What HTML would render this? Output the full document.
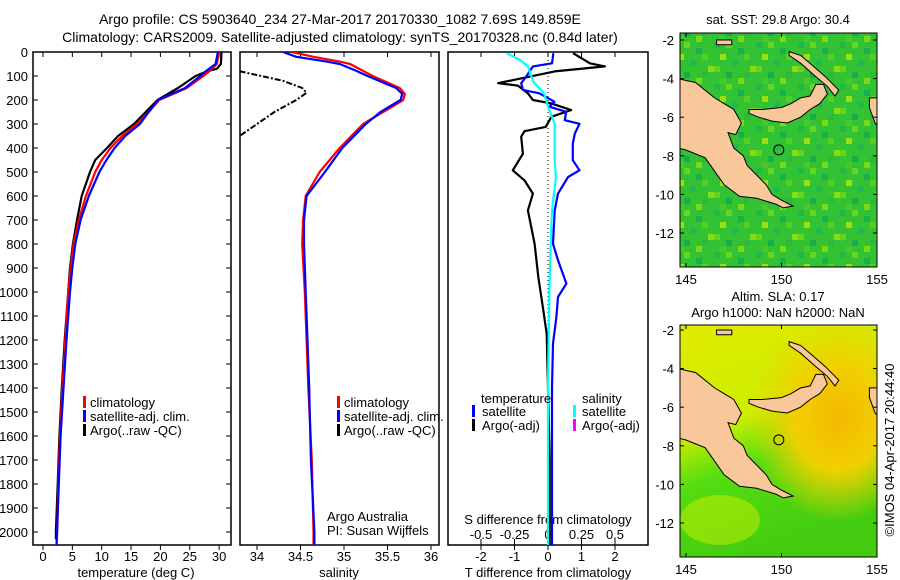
<!DOCTYPE html>
<html><head><meta charset="utf-8">
<style>
html,body{margin:0;padding:0;background:#fff;}
svg{display:block;font-family:"Liberation Sans",sans-serif;}
text{font-size:13px;fill:#000;}
</style></head>
<body>
<svg id="fig" width="900" height="580" viewBox="0 0 900 580" xmlns="http://www.w3.org/2000/svg">
<defs>
<pattern id="sstpat" width="42" height="42" patternUnits="userSpaceOnUse">
<rect width="42" height="42" fill="#33c233"/>
<rect x="0" y="0" width="6" height="6" fill="#22b844"/><rect x="12" y="0" width="6" height="6" fill="#66d622"/>
<rect x="24" y="6" width="6" height="6" fill="#18b04c"/><rect x="6" y="12" width="6" height="6" fill="#99e011"/>
<rect x="30" y="12" width="6" height="6" fill="#55d022"/><rect x="18" y="18" width="6" height="6" fill="#22b850"/>
<rect x="0" y="24" width="6" height="6" fill="#66d41a"/><rect x="36" y="24" width="6" height="6" fill="#88dc11"/>
<rect x="12" y="30" width="6" height="6" fill="#18ad48"/><rect x="24" y="36" width="6" height="6" fill="#7ad814"/>
<rect x="30" y="30" width="6" height="6" fill="#2cba38"/><rect x="6" y="36" width="6" height="6" fill="#48c82a"/>
</pattern>
<radialGradient id="slaOr" cx="0.8" cy="0.4" r="0.45"><stop offset="0" stop-color="#f5b800"/><stop offset="0.5" stop-color="#f0d000"/><stop offset="1" stop-color="#f0d000" stop-opacity="0"/></radialGradient>
<linearGradient id="slaBase" x1="0" y1="0" x2="0.3" y2="1"><stop offset="0" stop-color="#e0ea00"/><stop offset="0.45" stop-color="#ccee00"/><stop offset="0.65" stop-color="#55dd11"/><stop offset="1" stop-color="#44cc11"/></linearGradient>
<clipPath id="c1"><rect x="33" y="52" width="198" height="493"/></clipPath>
<clipPath id="c2"><rect x="240" y="52" width="199" height="493"/></clipPath>
<clipPath id="c3"><rect x="448" y="52" width="200" height="493"/></clipPath>
<clipPath id="cm1"><rect x="680" y="33" width="197" height="234"/></clipPath>
<clipPath id="cm2"><rect x="680" y="325" width="197" height="232"/></clipPath>
</defs>

<text x="340" y="24" text-anchor="middle" style="font-size:14px">Argo profile: CS 5903640_234 27-Mar-2017 20170330_1082 7.69S 149.859E</text>
<text x="340" y="42" text-anchor="middle" style="font-size:14px">Climatology: CARS2009. Satellite-adjusted climatology: synTS_20170328.nc (0.84d later)</text>

<g id="axes"></g>
<g id="series"></g>

<g>
<rect x="83" y="396" width="3" height="12" fill="#f00"/><text x="90" y="407">climatology</text>
<rect x="83" y="410" width="3" height="12" fill="#00f"/><text x="90" y="421">satellite-adj. clim.</text>
<rect x="83" y="424" width="3" height="12" fill="#000"/><text x="90" y="435">Argo(..raw -QC)</text>
</g>
<g>
<rect x="337" y="396" width="3" height="12" fill="#f00"/><text x="344" y="407">climatology</text>
<rect x="337" y="410" width="3" height="12" fill="#00f"/><text x="344" y="421">satellite-adj. clim.</text>
<rect x="337" y="424" width="3" height="12" fill="#000"/><text x="344" y="435">Argo(..raw -QC)</text>
<text x="327" y="521">Argo Australia</text>
<text x="327" y="535">PI: Susan Wijffels</text>
</g>
<g>
<text x="481" y="403">temperature</text>
<rect x="472" y="405" width="3" height="12" fill="#00f"/><text x="482" y="416">satellite</text>
<rect x="472" y="419" width="3" height="12" fill="#000"/><text x="482" y="430">Argo(-adj)</text>
<text x="582" y="403">salinity</text>
<rect x="573" y="405" width="3" height="12" fill="#0ff"/><text x="582" y="416">satellite</text>
<rect x="573" y="419" width="3" height="12" fill="#f0f"/><text x="582" y="430">Argo(-adj)</text>
</g>

<g>
<text x="778" y="24" text-anchor="middle">sat. SST: 29.8 Argo: 30.4</text>
<g clip-path="url(#cm1)"><rect x="680" y="33" width="197" height="234" fill="url(#sstpat)"/><g id="land1"></g></g>
<rect x="680" y="33" width="197" height="234" fill="none" stroke="#000"/>
<g id="mapax1"></g>
</g>
<g>
<text x="778" y="301" text-anchor="middle">Altim. SLA: 0.17</text>
<text x="778" y="317" text-anchor="middle">Argo h1000: NaN h2000: NaN</text>
<g clip-path="url(#cm2)"><rect x="680" y="325" width="197" height="232" fill="url(#slaBase)"/><rect x="680" y="325" width="197" height="232" fill="url(#slaOr)"/><ellipse cx="720" cy="520" rx="40" ry="25" fill="#ccee00" opacity="0.5"/><g id="land2"></g></g>
<rect x="680" y="325" width="197" height="232" fill="none" stroke="#000"/>
<g id="mapax2"></g>
</g>
<text transform="translate(894,450) rotate(-90)" text-anchor="middle">©IMOS 04-Apr-2017 20:44:40</text>

<script>
const depthTicks = [0,100,200,300,400,500,600,700,800,900,1000,1100,1200,1300,1400,1500,1600,1700,1800,1900,2000];
const tempTicks = [0,5,10,15,20,25,30];
const salTicks = [34,34.5,35,35.5,36];
const salTickLabels = ["34","34.5","35","35.5","36"];
const tdTicks = [-2,-1,0,1,2];
const sdTicks = [-0.5,-0.25,0,0.25,0.5];
const sdTickLabels = ["-0.5","-0.25","0","0.25","0.5"];

const tClimDepth = [0,50,75,100,150,200,250,300,350,400,450,500,600,700,800,900,1000,1200,1400,1600,1800,2000,2054];
const tClimVal   = [30.0,29.6,28.6,27.3,24.5,19.8,18.0,16.0,13.5,11.5,10.0,8.9,7.3,6.1,5.2,4.7,4.3,3.8,3.3,2.9,2.6,2.4,2.3];
const tSatDepth  = [0,50,75,100,150,200,250,300,350,400,450,500,600,700,800,900,1000,1200,1400,1600,1800,2000,2054];
const tSatVal    = [29.8,29.4,28.0,26.8,24.2,19.6,18.0,16.5,14.0,12.2,10.8,9.6,7.8,6.4,5.5,5.0,4.6,4.0,3.5,3.0,2.7,2.4,2.3];
const tArgoDepth = [0,50,70,80,100,150,200,250,300,350,400,450,500,600,700,800,900,1000,1200,1400,1600,1800,2000,2030];
const tArgoVal   = [30.4,30.3,29.6,28.0,26.0,23.0,19.5,17.5,15.5,12.8,10.9,8.9,8.0,6.6,5.8,5.1,4.6,4.3,3.7,3.2,2.8,2.5,2.2,2.2];

const sClimDepth = [0,20,40,50,75,100,150,175,200,250,300,400,500,600,700,800,1000,1200,1400,1700,2000,2054];
const sClimVal   = [34.4,34.65,34.95,35.07,35.2,35.33,35.64,35.7,35.68,35.45,35.22,34.95,34.72,34.56,34.53,34.52,34.55,34.57,34.59,34.63,34.65,34.65];
const sSatDepth  = [0,20,40,50,75,100,150,175,200,250,300,400,500,600,700,800,1000,1200,1400,1700,2000,2054];
const sSatVal    = [34.3,34.45,34.8,34.95,35.12,35.27,35.6,35.67,35.65,35.42,35.25,34.98,34.78,34.57,34.54,34.54,34.56,34.58,34.6,34.62,34.66,34.66];
const sArgoDepth = [80,100,120,150,170,200,250,300,350];
const sArgoVal   = [33.8,34.05,34.3,34.52,34.57,34.45,34.2,34.0,33.8];

const dTSatDepth = [5,47,60,102,130,158,172,207,228,249,284,299,340,382,451,493,521,590,660,799,868,965,1021,1104,1215,1400,1600,1800,2054];
const dTSatVal   = [0.16,0.12,-0.45,-0.65,-0.8,-0.75,-0.26,0.19,0.04,0.54,0.5,0.94,0.8,0.74,0.74,0.94,0.6,0.3,0.2,0.15,0.3,0.55,0.3,0.25,0.15,0.12,0.12,0.12,0.12];
const dTArgoDepth = [5,47,60,81,130,140,172,200,214,242,270,312,330,353,424,493,535,590,660,799,937,1076,1174,1400,1700,2054];
const dTArgoVal   = [0.75,1.25,1.7,0.2,-1.49,-0.9,-0.6,-0.45,0.1,0.69,0.1,-0.07,-0.7,-0.8,-0.75,-1.05,-0.7,-0.45,-0.6,-0.4,-0.29,-0.14,-0.04,0.0,0.05,0.05];
const dSSatDepth = [5,33,60,124,172,228,299,451,521,660,799,1000,1400,2054];
const dSSatVal   = [-0.31,-0.21,-0.15,-0.11,-0.03,0.0,0.05,0.05,0.06,0.03,0.02,0.01,0.0,0.0];

const yD = d => 52 + d*0.24;
const xT = t => 43 + t*5.87;
const xS = s => 257 + (s-34)*87;
const xTD = t => 548 + t*33.5;
const xSD = s => 548 + s*134;

const NS = "http://www.w3.org/2000/svg";
function mk(tag, attrs, parent){
  const e = document.createElementNS(NS, tag);
  for (const k in attrs) e.setAttribute(k, attrs[k]);
  parent.appendChild(e); return e;
}
const axes = document.getElementById('axes');
const series = document.getElementById('series');

[[33,198,'temperature-panel'],[240,199,'salinity-panel'],[448,200,'difference-panel']].forEach(p=>{
  const r = mk('rect',{x:p[0],y:52,width:p[1],height:493,fill:'none',stroke:'#000','stroke-width':1.5},axes);
  
  
});
depthTicks.forEach(d=>{
  const y = yD(d);
  mk('line',{x1:33,y1:y,x2:38,y2:y,stroke:'#000'},axes);
  mk('line',{x1:231,y1:y,x2:226,y2:y,stroke:'#000'},axes);
  const t = mk('text',{x:28,y:y+5,'text-anchor':'end'},axes);
  t.textContent = d;
  
  
});
function xaxis(ticks, labels, sx, y, top){
  ticks.forEach((v,i)=>{
    const x = sx(v);
    mk('line',{x1:x,y1:545,x2:x,y2:550,stroke:'#000'},axes);
    if (top) mk('line',{x1:x,y1:52,x2:x,y2:57,stroke:'#000'},axes);
    const t = mk('text',{x:x,y:y,'text-anchor':'middle'},axes);
    t.textContent = labels[i];
    
    
  });
}
xaxis(tempTicks, tempTicks.map(String), xT, 561, true);
xaxis(salTicks, salTickLabels, xS, 561, true);
xaxis(tdTicks, tdTicks.map(String), xTD, 561, true);
sdTicks.forEach((v,i)=>{
  const x = xSD(v);
  mk('line',{x1:x,y1:539,x2:x,y2:545,stroke:'#000'},axes);
  const t = mk('text',{x:x,y:539,'text-anchor':'middle'},axes);
  t.textContent = sdTickLabels[i];
  
  
});
[[136,'temperature (deg C)','temperature-axis-title'],[339,'salinity','salinity-axis-title'],[548,'T difference from climatology','t-diff-axis-title']].forEach(a=>{
  const t = mk('text',{x:a[0],y:577,'text-anchor':'middle'},axes);
  t.textContent = a[1];
  
  
});
{
  const t = mk('text',{x:548,y:524,'text-anchor':'middle'},axes);
  t.textContent = 'S difference from climatology';
  
  
}
{
  const l = mk('line',{x1:xTD(0),y1:52,x2:xTD(0),y2:545,stroke:'#000','stroke-dasharray':'1,3'},axes);
  
  
}

function line(depths, vals, sx, color, clip, name, extra){
  const pts = depths.map((d,i)=> sx(vals[i]).toFixed(1)+','+yD(d).toFixed(1)).join(' ');
  const a = {points:pts, fill:'none', stroke:color, 'stroke-width':2.2, 'clip-path':'url(#'+clip+')', 'stroke-linejoin':'round'};
  if (extra) Object.assign(a, extra);
  const pl = mk('polyline', a, series);
  
  
}
line(tArgoDepth, tArgoVal, xT, '#000', 'c1', 'temperature-argo-line');
line(tClimDepth, tClimVal, xT, '#f00', 'c1', 'temperature-climatology-line');
line(tSatDepth, tSatVal, xT, '#00f', 'c1', 'temperature-satellite-line');
line(sArgoDepth, sArgoVal, xS, '#000', 'c2', 'salinity-argo-line', {'stroke-dasharray':'6,2,2,2','stroke-width':2});
line(sClimDepth, sClimVal, xS, '#f00', 'c2', 'salinity-climatology-line');
line(sSatDepth, sSatVal, xS, '#00f', 'c2', 'salinity-satellite-line');
line(dTArgoDepth, dTArgoVal, xTD, '#000', 'c3', 't-diff-argo-line');
line(dTSatDepth, dTSatVal, xTD, '#00f', 'c3', 't-diff-satellite-line');
line(dSSatDepth, dSSatVal, xSD, '#0ff', 'c3', 's-diff-satellite-line');

const lonTicks = [145,150,155];
const latTicks = [-2,-4,-6,-8,-10,-12];
const mainland = [[144.6,-4.0],[145,-4.1],[145.5,-4.2],[146,-4.6],[146.5,-5.0],[147,-5.3],[147.5,-5.6],[147.9,-6.3],[147.6,-6.9],[147.2,-6.8],[147.5,-7.6],[148,-8.0],[148.2,-8.5],[148.7,-9.0],[149.2,-9.5],[149.5,-10.0],[150.0,-10.3],[150.6,-10.6],[150.1,-10.7],[149.7,-10.5],[148.7,-10.2],[147.8,-10.1],[147,-9.5],[146.5,-8.8],[146,-8.1],[145.5,-7.9],[145,-7.7],[144.6,-7.6]];
const newBritain = [[148.3,-5.6],[149,-5.6],[150,-5.5],[150.5,-5.3],[151,-5.0],[151.5,-4.9],[151.8,-4.3],[152.2,-4.3],[152.4,-4.8],[152,-5.3],[151.5,-5.6],[151,-6.0],[150.3,-6.3],[149.5,-6.2],[148.8,-6.0],[148.3,-5.8]];
const newIreland = [[150.4,-2.6],[151,-2.8],[151.6,-3.3],[152.3,-3.9],[153,-4.6],[152.8,-4.9],[152.4,-4.4],[151.8,-3.9],[151,-3.2],[150.4,-2.8]];
const manus = [[146.6,-2.0],[147.4,-2.0],[147.4,-2.25],[146.6,-2.25]];
const bougainville = [[154.6,-5.0],[155.2,-5.0],[155.2,-6.6],[154.9,-6.3],[154.6,-5.5]];
const argoLon = 149.859, argoLat = -7.69;

function drawMap(landId, axId, lat0y, top, bottom){
  const mx = lon => 686 + (lon-145)*19.1;
  const my = lat => lat0y + (-2-lat)*19.3;
  const g = document.getElementById(landId);
  [[mainland,'mainland'],[newBritain,'new-britain'],[newIreland,'new-ireland'],[manus,'manus-island'],[bougainville,'bougainville']].forEach(L=>{
    const p = mk('polygon',{points:L[0].map(q=>mx(q[0]).toFixed(1)+','+my(q[1]).toFixed(1)).join(' '),fill:'#f9c89a',stroke:'#000','stroke-width':1},g);
    
    
  });
  const c = mk('circle',{cx:mx(argoLon),cy:my(argoLat),r:5,fill:'none',stroke:'#000'},g);
  
  
  const ax = document.getElementById(axId);
  lonTicks.forEach(v=>{
    const x = mx(v);
    mk('line',{x1:x,y1:top,x2:x,y2:top+4,stroke:'#000'},ax);
    mk('line',{x1:x,y1:bottom,x2:x,y2:bottom-4,stroke:'#000'},ax);
    const t = mk('text',{x:x,y:bottom+17,'text-anchor':'middle'},ax);
    t.textContent = v;
    
    
  });
  latTicks.forEach(v=>{
    const y = my(v);
    mk('line',{x1:680,y1:y,x2:684,y2:y,stroke:'#000'},ax);
    mk('line',{x1:877,y1:y,x2:873,y2:y,stroke:'#000'},ax);
    const t = mk('text',{x:674,y:y+5,'text-anchor':'end'},ax);
    t.textContent = v;
    
    
  });
}
drawMap('land1','mapax1',40,33,267);
drawMap('land2','mapax2',330,325,557);
</script>
</svg>
</body></html>
